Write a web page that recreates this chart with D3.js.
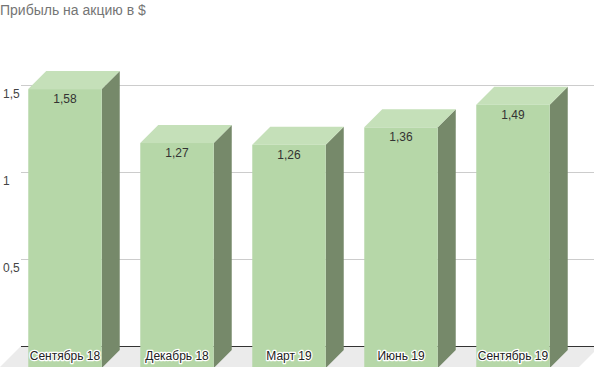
<!DOCTYPE html>
<html><head><meta charset="utf-8">
<script src="https://cdn.jsdelivr.net/npm/d3@7/dist/d3.min.js"></script>
<style>body{margin:0;background:#fff;}svg{display:block;font-family:Arial,"Liberation Sans",sans-serif;}</style>
</head><body>
<svg id="c" width="594" height="367"></svg>
<script>
const title = "Прибыль на акцию в $";
const categories = ["Сентябрь 18","Декабрь 18","Март 19","Июнь 19","Сентябрь 19"];
const values = [1.58,1.27,1.26,1.36,1.49];
const valueLabels = ["1,58","1,27","1,26","1,36","1,49"];
const tickValues = [0.5,1,1.5];
const tickLabels = ["0,5","1","1,5"];

const svg = d3.select("#c");
const D = 18; // 3D depth offset
const backLeft = 21, backRight = 600, base = 346;
const y = d3.scaleLinear().domain([0,2]).range([base, base - 348]);
const x = d3.scaleBand().domain(categories).range([27, 587]).paddingInner(0.344).paddingOuter(0.172);

// title
svg.append("text").attr("x",0).attr("y",15).attr("font-size",14).attr("fill","#757575").text(title);

// gridlines (back plane)
svg.selectAll(".grid").data(tickValues).enter().append("line")
  .attr("x1",backLeft).attr("x2",backRight)
  .attr("y1",d=>y(d)+0.5).attr("y2",d=>y(d)+0.5)
  .attr("stroke","#cccccc").attr("stroke-width",1);

// y labels
svg.selectAll(".yl").data(tickValues).enter().append("text")
  .attr("x",3).attr("y",d=>y(d)+13).attr("font-size",12).attr("fill","#444")
  .text((d,i)=>tickLabels[i]);

// floor
svg.append("path")
  .attr("d",`M${backLeft},${base} L${backRight},${base} L${backRight-D-4},${base+D+4} L${backLeft-D-4},${base+D+4}Z`)
  .attr("fill","#ebebeb");
svg.append("line").attr("x1",backLeft).attr("x2",backRight).attr("y1",base+0.5).attr("y2",base+0.5)
  .attr("stroke","#333").attr("stroke-width",1);

// bars
const g = svg.append("g");
categories.forEach((c,i)=>{
  const bx = x(c) - D, bw = x.bandwidth();
  const top = y(values[i]) + D, bot = base + D + 4;
  g.append("path").attr("d",`M${bx+bw},${top} L${bx+bw+D},${top-D} L${bx+bw+D},${bot-D} L${bx+bw},${bot}Z`)
    .attr("fill","#76896a");
  g.append("path").attr("d",`M${bx},${top} L${bx+D},${top-D} L${bx+bw+D},${top-D} L${bx+bw},${top}Z`)
    .attr("fill","#c5e0b9");
  g.append("rect").attr("x",bx).attr("y",top).attr("width",bw).attr("height",bot-top).attr("fill","#b6d7a8");
  g.append("text").attr("x",bx+bw/2).attr("y",top+14).attr("text-anchor","middle")
    .attr("font-size",12).attr("fill","#333").text(valueLabels[i]);
  g.append("text").attr("x",bx+bw/2).attr("y",360).attr("text-anchor","middle")
    .attr("font-size",12).attr("fill","#222")
    .attr("stroke","#fff").attr("stroke-width",2.5).attr("paint-order","stroke").attr("stroke-linejoin","round")
    .text(c);
});
</script>
</body></html>
